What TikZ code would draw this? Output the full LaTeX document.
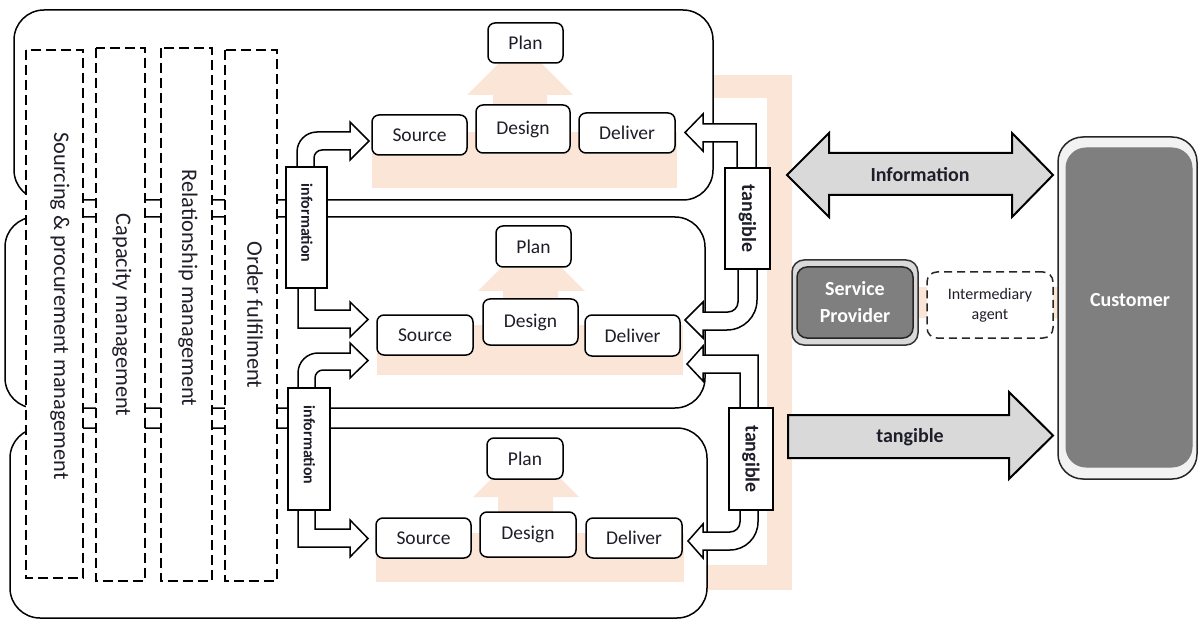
\documentclass[tikz,border=0pt]{standalone}
\usepackage{fontspec}
\setmainfont{Carlito}
\definecolor{peach}{HTML}{FBE5D6}
\definecolor{lgray}{HTML}{D9D9D9}
\definecolor{dgray}{HTML}{7F7F7F}
\definecolor{vlgray}{HTML}{F2F2F2}
\definecolor{ink}{HTML}{1E1E2A}
\tikzset{
  tier/.style={draw=black, line width=1.5pt, rounded corners=30pt},
  colbox/.style={draw=black, fill=white, line width=2pt, dash pattern=on 10pt off 5pt},
  coltext/.style={rotate=-90, text=ink, font=\fontsize{22.3}{26}\selectfont, inner sep=0pt},
  pbox/.style={draw=black, fill=white, line width=1.5pt, rounded corners=7pt, inner sep=0pt, text=ink, font=\fontsize{19.5}{22}\selectfont},
  vbox/.style={draw=black, fill=white, line width=1.5pt, inner sep=0pt},
  barrow/.style={draw=black, fill=white, line width=1.5pt, line join=miter},
  peachfill/.style={fill=peach, draw=none},
  bigarrow/.style={draw=black, fill=lgray, line width=2pt, line join=miter},
}
\begin{document}
\begin{tikzpicture}[x=1pt, y=-1pt]
\useasboundingbox (0,0) rectangle (1199,620);
% ---------- peach backgrounds ----------
\fill[peachfill] (713,75) rectangle (792,98);
\fill[peachfill] (767,75) rectangle (792,590);
\fill[peachfill] (706,565) rectangle (792,590);
\fill[peachfill] (913,287) rectangle (1062,318);
% top tier
\fill[peachfill] (372,132) rectangle (677,188);
\fill[peachfill] (493,132) -- (493,95) -- (467,95) -- (520,42) -- (573,95) -- (547,95) -- (547,132) -- cycle;
% middle tier
\fill[peachfill] (377,325) rectangle (683,375);
\fill[peachfill] (503,325) -- (503,291) -- (478,291) -- (531.5,238) -- (585,291) -- (558,291) -- (558,325) -- cycle;
% bottom tier
\fill[peachfill] (376,533) rectangle (684,582);
\fill[peachfill] (498,533) -- (498,497) -- (473,497) -- (526,444) -- (579,497) -- (553,497) -- (553,533) -- cycle;
% ---------- tiers ----------
\draw[tier] (14,10) rectangle (713,200);
\draw[tier] (5,217) rectangle (705,408);
\draw[tier] (10,428) rectangle (707,618);
% ---------- dashed columns ----------
\draw[colbox] (26,50) rectangle (83,578);
\draw[colbox] (96,48) rectangle (145,581);
\draw[colbox] (161,48) rectangle (212,581);
\draw[colbox] (225,50) rectangle (277,581);
\node[coltext] (c1) at (60,306) {Sourcing \& procurement management};
\node[coltext] (c2) at (122,315) {Capacity management};
\node[coltext] (c3) at (188,288) {Relationship management};
\node[coltext] (c4) at (255,315) {Order fulfilment};
% ---------- information block arrows ----------
\filldraw[barrow] (297,167) -- (297,152) arc[start angle=180,end angle=90,radius=20pt] -- (350,132) -- (350,122) -- (369,141) -- (350,160) -- (350,150) -- (322,150) arc[start angle=90,end angle=180,radius=8pt] -- (314,167);
\filldraw[barrow] (298,288) -- (298,328) -- (350,328) -- (350,337) -- (368,319.5) -- (350,302) -- (350,310) -- (315,310) -- (315,288);
\filldraw[barrow] (298,388) -- (298,373) arc[start angle=180,end angle=90,radius=20pt] -- (350,353) -- (350,343) -- (368,360.5) -- (350,378) -- (350,370) -- (323,370) arc[start angle=90,end angle=180,radius=8pt] -- (315,388);
\filldraw[barrow] (298,510) -- (298,547) -- (350,547) -- (350,557) -- (368,538.5) -- (350,520) -- (350,529) -- (315,529) -- (315,510);
% ---------- tangible block arrows ----------
\filldraw[barrow] (737,168) -- (737,142) -- (703,142) -- (703,151) -- (685,132.5) -- (703,114) -- (703,124) -- (756,124) -- (756,168);
\filldraw[barrow] (738,269) -- (738,302) arc[start angle=0,end angle=-90,radius=10pt] -- (703,312) -- (703,302) -- (685,320) -- (703,338) -- (703,330) -- (727,330) arc[start angle=-90,end angle=0,radius=30pt] -- (757,269);
\filldraw[barrow] (740,408) -- (740,373) -- (703,373) -- (703,381) -- (687,364) -- (703,346) -- (703,355) -- (758,355) -- (758,408);
\filldraw[barrow] (740,510) -- (740,522) arc[start angle=0,end angle=-90,radius=10pt] -- (703,532) -- (703,524) -- (688,541) -- (703,558) -- (703,550) -- (730,550) arc[start angle=-90,end angle=0,radius=28pt] -- (758,510);
% ---------- vertical label boxes ----------
\node[vbox, minimum width=41pt, minimum height=121pt] (info1) at (306.5,227.5) {};
\node[rotate=-90, font=\bfseries\fontsize{16}{18}\selectfont, text=ink] (info1t) at (307,223) {information};
\node[vbox, minimum width=42pt, minimum height=122pt] (info2) at (309,449) {};
\node[rotate=-90, font=\bfseries\fontsize{16}{18}\selectfont, text=ink] (info2t) at (309.5,445) {information};
\node[vbox, minimum width=45pt, minimum height=101pt] (tang1) at (747.5,218.5) {};
\node[rotate=-90, font=\bfseries\fontsize{20}{22}\selectfont, text=ink] (tang1t) at (tang1.center) {tangible};
\node[vbox, minimum width=44pt, minimum height=102pt] (tang2) at (751,459) {};
\node[rotate=-90, font=\bfseries\fontsize{20}{22}\selectfont, text=ink] (tang2t) at (tang2.center) {tangible};
% ---------- process boxes ----------
\node[pbox, minimum width=75pt, minimum height=40pt] (plan1) at (525.5,43) {Plan};
\node[pbox, minimum width=95pt, minimum height=40pt] (src1) at (419.5,135) {Source};
\node[pbox, minimum width=94pt, minimum height=48pt] (des1) at (523,129) {Design};
\node[pbox, minimum width=96pt, minimum height=40pt] (del1) at (627,133) {Deliver};
\node[pbox, minimum width=75pt, minimum height=41pt] (plan2) at (533.5,246.5) {Plan};
\node[pbox, minimum width=96pt, minimum height=40pt] (src2) at (425,335) {Source};
\node[pbox, minimum width=95pt, minimum height=46pt] (des2) at (530.5,322) {Design};
\node[pbox, minimum width=95pt, minimum height=41pt] (del2) at (632.5,335.5) {Deliver};
\node[pbox, minimum width=76pt, minimum height=41pt] (plan3) at (525,458.5) {Plan};
\node[pbox, minimum width=95pt, minimum height=40pt] (src3) at (423.5,538) {Source};
\node[pbox, minimum width=96pt, minimum height=45pt] (des3) at (528,534.5) {Design};
\node[pbox, minimum width=96pt, minimum height=40pt] (del3) at (634,538) {Deliver};
% ---------- right side ----------
\filldraw[bigarrow] (787,175) -- (829,133) -- (829,153) -- (1012,153) -- (1012,133) -- (1053,175) -- (1012,217) -- (1012,195) -- (829,195) -- (829,217) -- cycle;
\node[font=\bfseries\fontsize{20}{22}\selectfont, text=ink] (infolbl) at (920,175) {Information};
\filldraw[bigarrow] (788,415) -- (1009,415) -- (1009,392) -- (1053,435.5) -- (1009,479) -- (1009,458) -- (788,458) -- cycle;
\node[font=\bfseries\fontsize{20}{22}\selectfont, text=ink] (tanglbl) at (910,437) {tangible};
% customer
\node[draw=black!85, fill=vlgray, line width=1.5pt, rounded corners=25pt, minimum width=139pt, minimum height=342pt] (custout) at (1127.5,308) {};
\node[draw=dgray, fill=dgray, line width=1pt, rounded corners=20pt, minimum width=126pt, minimum height=319pt] (cust) at (1129,307.5) {};
\node[text=white, font=\bfseries\fontsize{20}{22}\selectfont] (custlbl) at (1130,300) {Customer};
% service provider
\node[draw=black!80, fill=lgray, line width=1.5pt, rounded corners=12pt, minimum width=126pt, minimum height=85pt] (spout) at (855,302.5) {};
\node[draw=black!85, fill=dgray, line width=1.5pt, rounded corners=10pt, minimum width=116pt, minimum height=71pt, text=white, align=center, font=\bfseries\fontsize{20}{27}\selectfont] (sp) at (855,302.5) {Service\\Provider};
% intermediary agent
\node[draw=black!85, fill=white, line width=1.5pt, dash pattern=on 8pt off 5pt, rounded corners=10pt, minimum width=126pt, minimum height=66pt, align=center, text=ink, font=\fontsize{16}{20}\selectfont] (agent) at (990,305) {Intermediary\\agent};
\end{tikzpicture}
\end{document}
